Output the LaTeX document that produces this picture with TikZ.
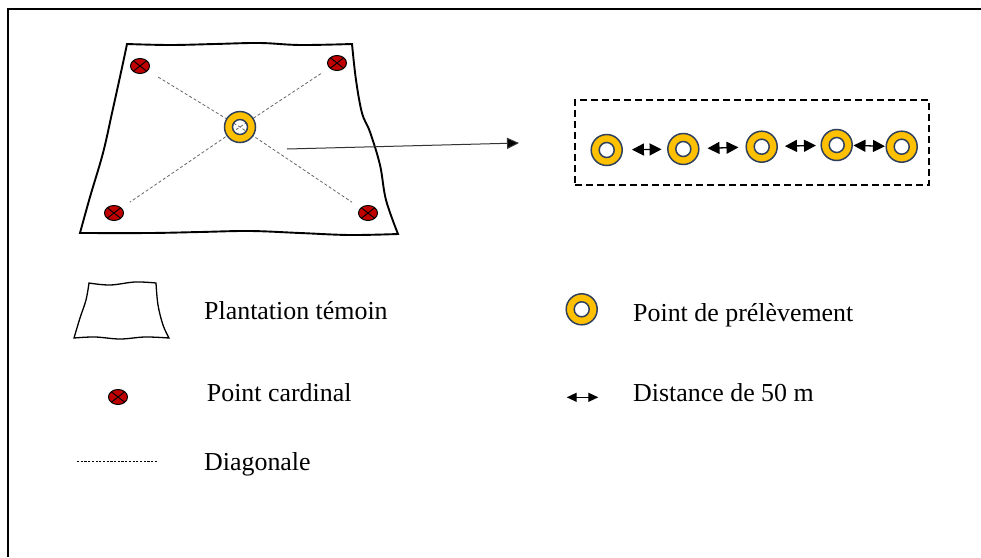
\documentclass[tikz,border=0pt]{standalone}
\usepackage{fontspec}
\setmainfont{Liberation Serif}
\usetikzlibrary{arrows.meta,shapes.geometric}
\definecolor{ringyellow}{RGB}{255,192,0}
\definecolor{ringedge}{RGB}{47,64,92}
\definecolor{markred}{RGB}{192,0,0}

\begin{document}
\begin{tikzpicture}[x=1pt,y=-1pt,
  ring/.style={circle, minimum size=31pt, inner sep=0pt, draw=ringedge, line width=1.5pt,
    path picture={
      \fill[ringyellow, even odd rule] (path picture bounding box.center) circle (16pt)
                                       (path picture bounding box.center) circle (7.5pt);
      \draw[ringedge, line width=1.5pt] (path picture bounding box.center) circle (7.5pt);}},
  marker/.style={ellipse, minimum width=19pt, minimum height=15pt, inner sep=0pt,
    draw=black, line width=1pt, fill=markred,
    path picture={
      \draw[black, line width=0.9pt]
        (path picture bounding box.north west) -- (path picture bounding box.south east)
        (path picture bounding box.north east) -- (path picture bounding box.south west);}},
  legendtext/.style={anchor=base west, inner sep=0pt, font=\fontsize{25.9}{30}\selectfont},
  diag/.style={draw=black!60, line width=0.8pt, dash pattern=on 3pt off 2.2pt},
  fieldline/.style={line width=1.9pt, line join=miter},
  pointer/.style={draw=black!80, line width=1pt, -{Triangle[length=12pt,width=11pt,fill=black]}},
  spacing/.style={line width=1.3pt, {Triangle[length=12pt,width=12pt]}-{Triangle[length=12pt,width=12pt]}},
  spacingsmall/.style={line width=1.3pt, {Triangle[length=10pt,width=9pt]}-{Triangle[length=10pt,width=9pt]}},
  seriesbox/.style={draw=black, line width=1.4pt, dash pattern=on 7pt off 4pt,
    minimum width=354pt, minimum height=85pt, inner sep=0pt}
]
\useasboundingbox (0,0) rectangle (981,557);

% outer frame
\draw[line width=1.8pt] (8,557) -- (8,9) -- (981,9);

% control plantation outline
\draw[fieldline]
  plot[smooth, tension=0.6] coordinates {(127,44) (170,45) (215,44) (260,43) (300,45) (352,44)}
  -- plot[smooth, tension=0.6] coordinates {(352,44) (356,80) (362,113) (370,132) (380,165) (386,200) (398,234)}
  -- plot[smooth, tension=0.6] coordinates {(398,234) (350,235) (300,233) (250,231) (200,232) (150,233) (80,233)}
  -- plot[smooth, tension=0.6] coordinates {(80,233) (90,197) (103,153) (112,113) (116,95) (123,63) (127,44)}
  -- cycle;

% cardinal points and central sampling point
\node[marker] (mtl) at (140,66) {};
\node[marker] (mtr) at (337,63) {};
\node[marker] (mbl) at (114,213) {};
\node[marker] (mbr) at (368,213) {};
\coordinate (cen) at (240,127);

% diagonals
\draw[diag, shorten <=12pt, shorten >=10pt] (mtl) -- (cen) -- (mbr);
\draw[diag, shorten <=10pt, shorten >=10pt] (mtr) -- (cen) -- (mbl);

\node[ring] (c) at (cen) {};

% pointer to the sample series
\coordinate (fromfield) at (287,149);
\coordinate (tobox) at (519,143);
\draw[pointer] (fromfield) -- (tobox);

% series of sampling points
\node[seriesbox] (box) at (752,142.5) {};
\node[ring] (r1) at (606.7,150) {};
\node[ring] (r2) at (683.3,149) {};
\node[ring] (r3) at (761.7,146.7) {};
\node[ring] (r4) at (836.7,145) {};
\node[ring] (r5) at (901.7,146.7) {};
\draw[spacing, shorten <=9pt, shorten >=5.5pt] (r1) -- (r2);
\draw[spacing, shorten <=8pt, shorten >=7pt] (r2) -- (r3);
\draw[spacing, shorten <=7pt, shorten >=4.5pt] (r3) -- (r4);
\draw[spacing, shorten <=0.5pt, shorten >=0.5pt] (r4) -- (r5);

% legend
\draw[line width=1.3pt, line join=miter]
  plot[smooth, tension=0.6] coordinates {(89,283) (110,285) (135,282) (156,283)}
  -- plot[smooth, tension=0.6] coordinates {(156,283) (158,305) (163,325) (169,338)}
  -- plot[smooth, tension=0.6] coordinates {(169,338) (145,337) (120,339) (95,337) (74,338)}
  -- plot[smooth, tension=0.6] coordinates {(74,338) (80,318) (86,300) (89,283)}
  -- cycle;
\node[legendtext] (t1) at (204,319) {Plantation témoin};

\node[marker] (legmark) at (118,397) {};
\node[legendtext] (t2) at (206.7,401.7) {Point cardinal};

\coordinate (dl) at (77,461);
\coordinate (dr) at (158,461);
\draw[line width=0.6pt, dash pattern=on 2.2pt off 1.5pt] (dl) -- (dr);
\node[legendtext] (t3) at (204,470.5) {Diagonale};

\node[ring] (legring) at (581.7,309.3) {};
\node[legendtext] (t4) at (633,321.7) {Point de prélèvement};

\coordinate (al) at (566.7,397.3);
\coordinate (ar) at (598.3,397.3);
\draw[spacingsmall] (al) -- (ar);
\node[legendtext] (t5) at (633,401.7) {Distance de 50 m};
\end{tikzpicture}
\end{document}
